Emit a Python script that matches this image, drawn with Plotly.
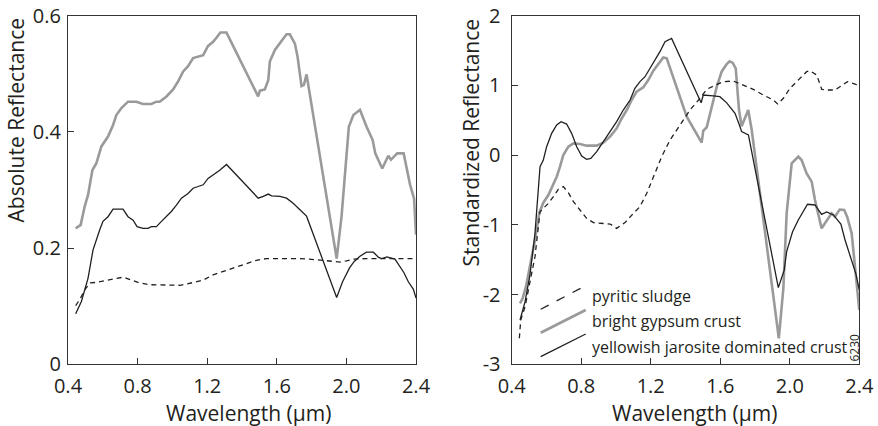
import plotly.graph_objects as go

# ---- Absolute reflectance spectra (left panel) ----
wl_gyp_abs = [0.444, 0.473, 0.496, 0.515, 0.540, 0.563, 0.592, 0.611, 0.630, 0.659, 0.678, 0.707,
              0.745, 0.793, 0.831, 0.879, 0.908, 0.927, 0.966, 1.004, 1.033, 1.062, 1.090, 1.119,
              1.148, 1.177, 1.205, 1.234, 1.253, 1.276, 1.311, 1.493, 1.503, 1.531, 1.551, 1.560,
              1.589, 1.618, 1.656, 1.675, 1.704, 1.719, 1.742, 1.756, 1.771, 1.944, 1.972, 2.014,
              2.040, 2.078, 2.116, 2.151, 2.166, 2.206, 2.241, 2.256, 2.292, 2.329, 2.366, 2.389, 2.400]
gyp_abs = [0.234, 0.240, 0.272, 0.291, 0.334, 0.346, 0.375, 0.383, 0.392, 0.412, 0.429, 0.441,
           0.452, 0.452, 0.448, 0.448, 0.452, 0.452, 0.461, 0.473, 0.487, 0.504, 0.513, 0.527,
           0.530, 0.532, 0.548, 0.555, 0.562, 0.571, 0.571, 0.461, 0.471, 0.473, 0.489, 0.521,
           0.541, 0.552, 0.568, 0.568, 0.552, 0.530, 0.479, 0.481, 0.499, 0.182, 0.254, 0.409,
           0.429, 0.438, 0.409, 0.386, 0.363, 0.337, 0.359, 0.352, 0.363, 0.363, 0.309, 0.285, 0.223]

wl_jar_abs = [0.444, 0.477, 0.515, 0.544, 0.582, 0.601, 0.630, 0.659, 0.716, 0.745, 0.774, 0.797,
              0.831, 0.860, 0.879, 0.908, 0.937, 0.966, 0.994, 1.023, 1.052, 1.090, 1.119, 1.148,
              1.177, 1.205, 1.234, 1.272, 1.311, 1.493, 1.522, 1.551, 1.570, 1.618, 1.656, 1.694,
              1.733, 1.771, 1.944, 1.978, 2.018, 2.045, 2.078, 2.115, 2.155, 2.185, 2.203, 2.233,
              2.279, 2.310, 2.330, 2.356, 2.385, 2.400]
jar_abs = [0.087, 0.108, 0.148, 0.197, 0.231, 0.246, 0.254, 0.267, 0.267, 0.254, 0.248, 0.237,
           0.234, 0.234, 0.237, 0.237, 0.246, 0.254, 0.263, 0.274, 0.286, 0.294, 0.303, 0.306,
           0.309, 0.320, 0.326, 0.334, 0.344, 0.286, 0.289, 0.293, 0.290, 0.289, 0.286, 0.277,
           0.266, 0.255, 0.115, 0.142, 0.166, 0.177, 0.186, 0.193, 0.193, 0.184, 0.182, 0.185,
           0.181, 0.168, 0.158, 0.142, 0.129, 0.114]

wl_pyr_abs = [0.444, 0.467, 0.496, 0.526, 0.563, 0.621, 0.678, 0.718, 0.745, 0.812, 0.870, 0.966,
              1.044, 1.081, 1.177, 1.234, 1.311, 1.389, 1.483, 1.541, 1.733, 1.829, 1.924, 1.963,
              2.001, 2.040, 2.116, 2.400]
pyr_abs = [0.101, 0.111, 0.128, 0.140, 0.141, 0.144, 0.148, 0.150, 0.147, 0.140, 0.137, 0.136,
           0.136, 0.138, 0.145, 0.154, 0.162, 0.169, 0.179, 0.182, 0.182, 0.180, 0.177, 0.176,
           0.178, 0.181, 0.182, 0.182]

# ---- Standardized reflectance spectra (right panel) ----
wl_gyp_std = [0.448, 0.463, 0.482, 0.505, 0.534, 0.559, 0.582, 0.611, 0.640, 0.659, 0.678, 0.697,
              0.726, 0.755, 0.793, 0.831, 0.889, 0.927, 0.966, 1.004, 1.033, 1.062, 1.090, 1.119,
              1.157, 1.186, 1.215, 1.244, 1.272, 1.292, 1.330, 1.407, 1.493, 1.502, 1.522, 1.551,
              1.580, 1.608, 1.637, 1.654, 1.671, 1.689, 1.708, 1.723, 1.742, 1.761, 1.781, 1.937,
              1.963, 1.982, 2.011, 2.049, 2.068, 2.097, 2.126, 2.145, 2.183, 2.212, 2.241, 2.260,
              2.287, 2.313, 2.330, 2.356, 2.375, 2.400]
gyp_std = [-2.125, -2.054, -1.886, -1.600, -1.217, -0.825, -0.682, -0.572, -0.404, -0.309, -0.165, 0.002,
           0.121, 0.169, 0.160, 0.136, 0.136, 0.179, 0.265, 0.384, 0.528, 0.647, 0.791, 0.910,
           0.972, 1.077, 1.211, 1.316, 1.402, 1.388, 1.101, 0.552, 0.179, 0.350, 0.400, 0.695,
           0.982, 1.197, 1.307, 1.345, 1.326, 1.245, 0.647, 0.415, 0.528, 0.648, 0.360, -2.627,
           -1.910, -0.835, -0.118, -0.022, -0.070, -0.261, -0.380, -0.643, -1.050, -0.945, -0.835, -0.882,
           -0.780, -0.785, -0.882, -1.121, -1.600, -2.221]

wl_jar_std = [0.448, 0.477, 0.505, 0.534, 0.563, 0.582, 0.601, 0.630, 0.659, 0.684, 0.716, 0.745,
              0.774, 0.803, 0.831, 0.855, 0.889, 0.927, 0.966, 1.004, 1.042, 1.081, 1.109, 1.138,
              1.167, 1.196, 1.224, 1.253, 1.282, 1.320, 1.490, 1.502, 1.560, 1.598, 1.637, 1.670,
              1.685, 1.710, 1.723, 1.762, 1.934, 1.968, 1.982, 2.016, 2.049, 2.102, 2.145, 2.183,
              2.212, 2.251, 2.294, 2.318, 2.347, 2.380, 2.400]
jar_std = [-2.364, -2.101, -1.719, -1.121, -0.165, -0.070, 0.121, 0.313, 0.432, 0.480, 0.446, 0.313,
           0.121, -0.012, -0.060, -0.046, 0.050, 0.193, 0.337, 0.480, 0.647, 0.791, 0.958, 1.054,
           1.125, 1.245, 1.364, 1.484, 1.627, 1.675, 0.750, 0.862, 0.850, 0.838, 0.750, 0.650,
           0.599, 0.432, 0.337, 0.289, -1.900, -1.650, -1.384, -1.100, -0.930, -0.705, -0.715, -0.850,
           -0.815, -0.858, -0.990, -1.217, -1.430, -1.700, -1.934]

wl_pyr_std = [0.444, 0.452, 0.477, 0.505, 0.534, 0.563, 0.582, 0.611, 0.640, 0.668, 0.697, 0.726,
              0.755, 0.793, 0.831, 0.870, 0.927, 0.966, 1.004, 1.052, 1.100, 1.138, 1.177, 1.215,
              1.263, 1.311, 1.368, 1.426, 1.483, 1.522, 1.560, 1.618, 1.675, 1.733, 1.790, 1.848,
              1.905, 1.930, 1.963, 2.001, 2.049, 2.097, 2.115, 2.155, 2.184, 2.212, 2.260, 2.308,
              2.332, 2.375, 2.400]
pyr_std = [-2.627, -2.364, -2.173, -1.838, -1.456, -0.811, -0.763, -0.691, -0.596, -0.490, -0.452, -0.538,
           -0.667, -0.787, -0.906, -0.968, -0.978, -0.988, -1.050, -0.968, -0.835, -0.739, -0.548, -0.309,
           -0.022, 0.217, 0.432, 0.647, 0.815, 0.944, 0.991, 1.054, 1.063, 1.006, 0.944, 0.862,
           0.791, 0.734, 0.815, 0.958, 1.077, 1.197, 1.211, 1.149, 0.944, 0.934, 0.934, 1.006,
           1.054, 1.020, 0.991]

# ---- Axis ticks and labels ----
wl_ticks = [0.4, 0.8, 1.2, 1.6, 2.0, 2.4]
wl_labels = ["0.4", "0.8", "1.2", "1.6", "2.0", "2.4"]
abs_ticks = [0, 0.2, 0.4, 0.6]
abs_labels = ["0", "0.2", "0.4", "0.6"]
std_ticks = [-3, -2, -1, 0, 1, 2]
std_labels = ["-3", "-2", "-1", "0", "1", "2"]

legend_names = ["pyritic sludge", "bright gypsum crust", "yellowish jarosite dominated crust"]

FONT = "Open Sans"
INK = "#231f20"
GRAY = "#9a9a9a"
DASH = "5px,4px"

fig = go.Figure()

def spectrum(x, y, style, xa, ya):
    if style == "gypsum":
        line = dict(color=GRAY, width=2.6)
    elif style == "jarosite":
        line = dict(color=INK, width=1.3)
    else:
        line = dict(color=INK, width=1.3, dash=DASH)
    fig.add_trace(go.Scatter(x=x, y=y, mode="lines", line=line, xaxis=xa, yaxis=ya,
                             showlegend=False, hoverinfo="skip"))

spectrum(wl_gyp_abs, gyp_abs, "gypsum", "x", "y")
spectrum(wl_jar_abs, jar_abs, "jarosite", "x", "y")
spectrum(wl_pyr_abs, pyr_abs, "pyritic", "x", "y")
spectrum(wl_gyp_std, gyp_std, "gypsum", "x2", "y2")
spectrum(wl_jar_std, jar_std, "jarosite", "x2", "y2")
spectrum(wl_pyr_std, pyr_std, "pyritic", "x2", "y2")

W, H = 878, 426
ydom = [1 - 364.3 / H, 1 - 15.7 / H]

axis_common = dict(
    showline=True, linecolor="#333333", linewidth=1.3, mirror=True,
    ticks="inside", ticklen=6, tickwidth=1.2, tickcolor="#333333",
    showgrid=False, zeroline=False, automargin=False,
    tickfont=dict(family=FONT, size=20, color=INK),
)

fig.update_layout(
    width=W, height=H, template="none",
    margin=dict(l=0, r=0, t=0, b=0),
    paper_bgcolor="white", plot_bgcolor="white",
    showlegend=False,
    xaxis=dict(domain=[68 / W, 416 / W], range=[0.4, 2.4], tickvals=wl_ticks, ticktext=wl_labels,
               anchor="y", ticklabelstandoff=4, **axis_common),
    yaxis=dict(domain=ydom, range=[0, 0.6], tickvals=abs_ticks, ticktext=abs_labels,
               anchor="x", ticklabelstandoff=2, **axis_common),
    xaxis2=dict(domain=[511.7 / W, 859.3 / W], range=[0.4, 2.4], tickvals=wl_ticks, ticktext=wl_labels,
                anchor="y2", ticklabelstandoff=4, **axis_common),
    yaxis2=dict(domain=ydom, range=[-3, 2], tickvals=std_ticks, ticktext=std_labels,
                anchor="x2", ticklabelstandoff=6, **axis_common),
)

title_font = dict(family=FONT, size=21, color=INK)
annotations = [
    dict(text="Absolute Reflectance", x=15.5 / W, y=1 - 120 / H, textangle=-90),
    dict(text="Standardized Reflectance", x=470 / W, y=1 - 142.5 / H, textangle=-90),
    dict(text="Wavelength (\u00b5m)", x=248 / W, y=1 - 413 / H),
    dict(text="Wavelength (\u00b5m)", x=694 / W, y=1 - 413 / H),
]
for a in annotations:
    fig.add_annotation(xref="paper", yref="paper", xanchor="center", yanchor="middle",
                       showarrow=False, font=title_font, **a)

# Key: slanted sample lines with labels, inside the right panel
key_lines = [
    (dict(color=INK, width=1.3, dash="dash"), 0.0834, 0.1578, 0.2109, 0.2246),
    (dict(color=GRAY, width=2.6), 0.0834, 0.0906, 0.2129, 0.1558),
    (dict(color=INK, width=1.3), 0.0834, 0.0218, 0.2129, 0.0869),
]
key_text_y = [0.1959, 0.1242, 0.0505]
for (line, x0, y0, x1, y1), name, ty in zip(key_lines, legend_names, key_text_y):
    fig.add_shape(type="line", xref="x2 domain", yref="y2 domain",
                  x0=x0, y0=y0, x1=x1, y1=y1, line=line)
    fig.add_annotation(xref="x2 domain", yref="y2 domain", x=0.2253, y=ty,
                       xanchor="left", yanchor="middle", showarrow=False, text=name,
                       font=dict(family=FONT, size=16, color=INK))

fig.add_annotation(xref="paper", yref="paper", x=853.5 / W, y=1 - 348 / H, text="6230",
                   textangle=-90, xanchor="center", yanchor="middle", showarrow=False,
                   font=dict(family=FONT, size=12, color=INK))

fig.write_html("out.html")
